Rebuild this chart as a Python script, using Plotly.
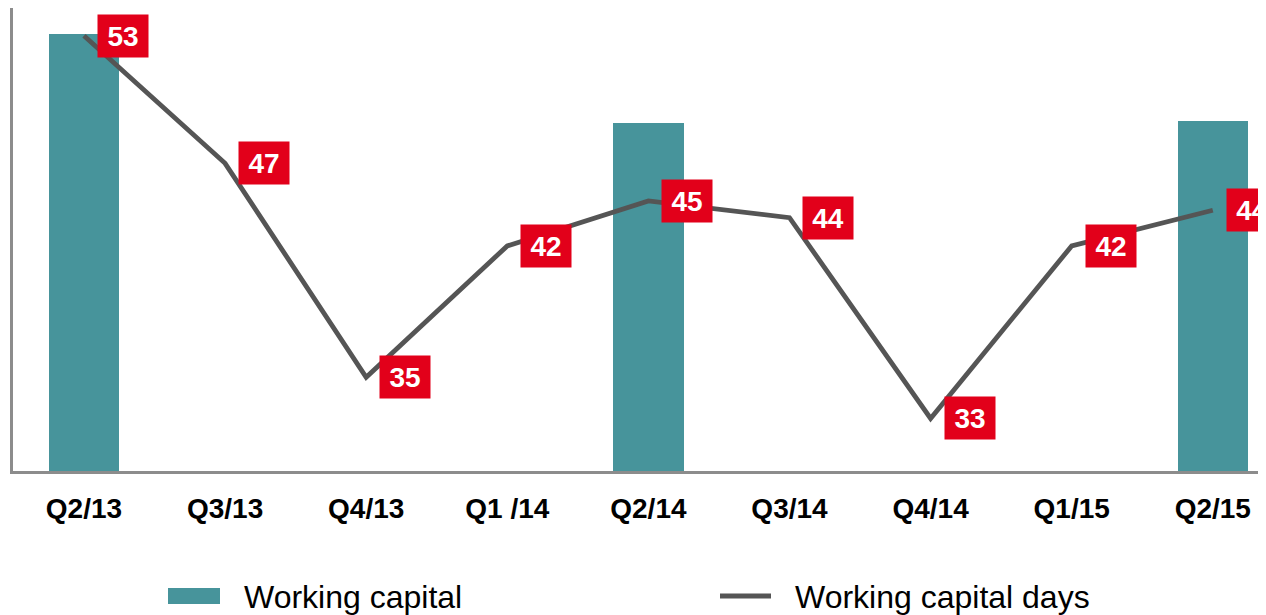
import plotly.graph_objects as go

# ---- data ----
quarters = ["Q2/13", "Q3/13", "Q4/13", "Q1 /14", "Q2/14", "Q3/14", "Q4/14", "Q1/15", "Q2/15"]
working_capital = [944, None, None, None, 752, None, None, None, 756]
working_capital_days = [53.4, 46.6, 35.2, 42.2, 44.6, 43.7, 33.0, 42.2, 44.1]
legend_names = ["Working capital", "Working capital days"]

# ---- style ----
OFF = 8  # page body margin
W, H = 1266 - OFF, 615 - OFF
ML, MR, MT = 13 - OFF, 0, 8 - OFF
PLOT_BOTTOM = 471 - OFF
MB = H - PLOT_BOTTOM
PW, PH = W - ML - MR, H - MT - MB
TEAL = "#47949B"
LINE = "#555555"
RED = "#E2001A"
AXIS = "#8C8C8C"
FONT = "Liberation Sans, Arial, sans-serif"


def px_x(px):
    return (px - OFF - ML) / PW


def px_y(py):
    return (PLOT_BOTTOM - (py - OFF)) / PH


fig = go.Figure()
fig.add_trace(go.Bar(x=quarters, y=working_capital, name=legend_names[0],
                     marker=dict(color=TEAL, line=dict(width=0)), width=0.5,
                     showlegend=False))
fig.add_trace(go.Scatter(x=quarters, y=working_capital_days, name=legend_names[1],
                         mode="lines", line=dict(color=LINE, width=4.8),
                         yaxis="y2", showlegend=False, cliponaxis=False))

annotations = []
for q, v in zip(quarters, working_capital_days):
    annotations.append(dict(
        x=q, y=v, xref="x", yref="y2", text=f"<b>{v:.0f}</b>", showarrow=False,
        xshift=39, bgcolor=RED, width=46, height=38, borderpad=2,
        font=dict(family=FONT, size=28, color="white"),
        xanchor="center", yanchor="middle"))

# custom legend
annotations.append(dict(x=px_x(242), y=px_y(597), xref="paper", yref="paper",
                        text=legend_names[0], showarrow=False, xanchor="left",
                        yanchor="middle", font=dict(family=FONT, size=32, color="#000")))
annotations.append(dict(x=px_x(793), y=px_y(597), xref="paper", yref="paper",
                        text=legend_names[1], showarrow=False, xanchor="left",
                        yanchor="middle", font=dict(family=FONT, size=32, color="#000")))
shapes = [
    dict(type="rect", xref="paper", yref="paper", x0=px_x(168), x1=px_x(220),
         y0=px_y(604), y1=px_y(588), fillcolor=TEAL, line=dict(width=0)),
    dict(type="line", xref="paper", yref="paper", x0=px_x(720), x1=px_x(771),
         y0=px_y(596), y1=px_y(596), line=dict(color=LINE, width=5)),
]

fig.update_layout(
    width=W, height=H,
    margin=dict(l=ML, r=MR, t=MT, b=MB, pad=0),
    paper_bgcolor="white", plot_bgcolor="white",
    showlegend=False,
    bargap=0,
    xaxis=dict(type="category", range=[-0.503, 8.377], showgrid=False,
               showline=True, linecolor=AXIS, linewidth=3, ticks="",
               tickfont=dict(family=FONT, size=28, color="#000", weight="bold"),
               ticklabelstandoff=10, zeroline=False),
    yaxis=dict(range=[0, 1000], showgrid=False, showline=True, linecolor=AXIS,
               linewidth=3, showticklabels=False, ticks="", zeroline=False),
    yaxis2=dict(range=[30.2, 54.88], overlaying="y", showgrid=False,
                showline=False, showticklabels=False, ticks="", zeroline=False),
    annotations=annotations,
    shapes=shapes,
)

fig.write_html("out.html")
